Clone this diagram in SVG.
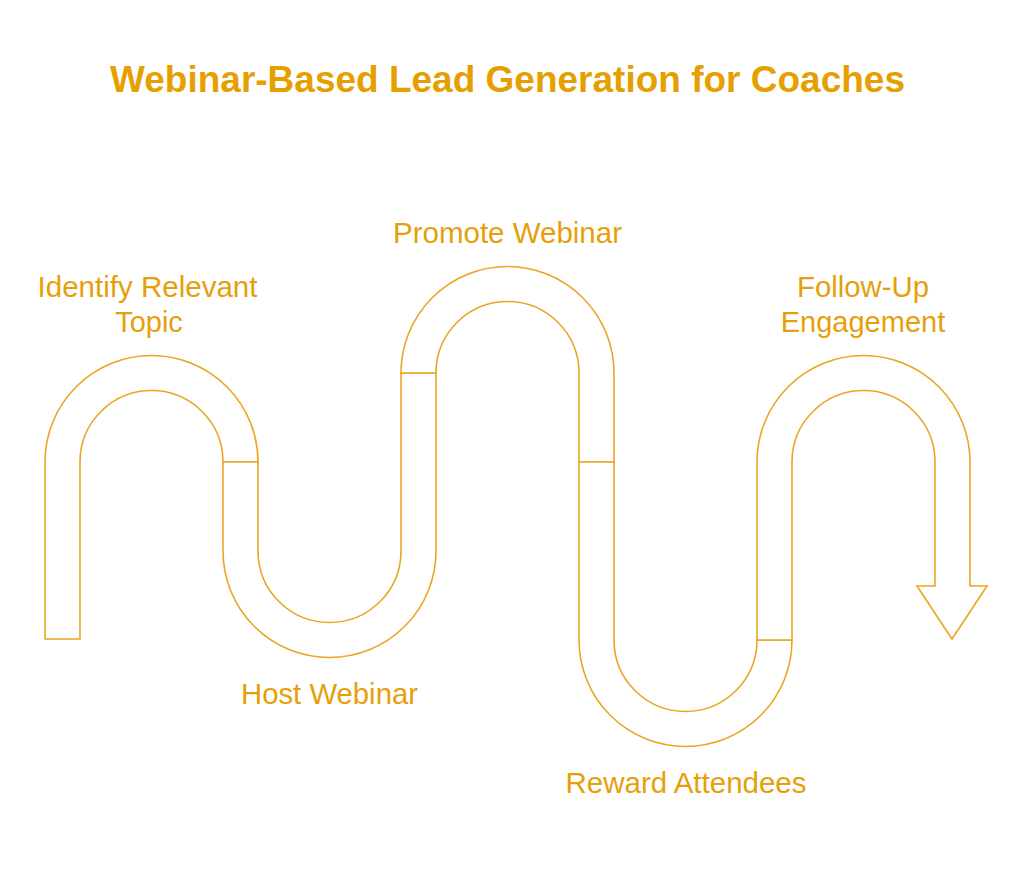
<svg xmlns="http://www.w3.org/2000/svg" width="1024" height="873" viewBox="0 0 1024 873">
<style>
.seg{fill:#ffffff;stroke:#EAA523;stroke-width:1.6;stroke-linejoin:miter}
.lbl{font-family:"Liberation Sans",Arial,sans-serif;font-size:29px;fill:#E69F0A;text-anchor:middle}
.title{font-family:"Liberation Sans",Arial,sans-serif;font-size:36px;font-weight:bold;fill:#E69F00;text-anchor:middle}
</style>
<rect width="1024" height="873" fill="#ffffff"/>
<text class="title" x="507.5" y="91.5" textLength="795" lengthAdjust="spacingAndGlyphs">Webinar-Based Lead Generation for Coaches</text>
<g id="connectors"></g>
<g id="stage1">
<path class="seg" d="M45,639 L45,462 A106.5,106.5 0 0 1 258,462 L223,462 A71.5,71.5 0 0 0 80,462 L80,639 Z"/>
<text class="lbl" x="147.5" y="296.5" textLength="220" lengthAdjust="spacingAndGlyphs">Identify Relevant</text>
<text class="lbl" x="149" y="331.5">Topic</text>
</g>
<g id="stage2">
<path class="seg" d="M223,462 L258,462 L258,551 A71.5,71.5 0 0 0 401,551 L401,373 L436,373 L436,551 A106.5,106.5 0 0 1 223,551 Z"/>
<text class="lbl" x="329.5" y="703.5" textLength="177" lengthAdjust="spacingAndGlyphs">Host Webinar</text>
</g>
<g id="stage3">
<path class="seg" d="M401,373 A106.5,106.5 0 0 1 614,373 L614,462 L579,462 L579,373 A71.5,71.5 0 0 0 436,373 Z"/>
<text class="lbl" x="507.5" y="242.5" textLength="229" lengthAdjust="spacingAndGlyphs">Promote Webinar</text>
</g>
<g id="stage4">
<path class="seg" d="M579,462 L614,462 L614,640 A71.5,71.5 0 0 0 757,640 L792,640 A106.5,106.5 0 0 1 579,640 Z"/>
<text class="lbl" x="686" y="792.5" textLength="241" lengthAdjust="spacingAndGlyphs">Reward Attendees</text>
</g>
<g id="stage5">
<path class="seg" d="M757,640 L757,462 A106.5,106.5 0 0 1 970,462 L970,586 L987,586 L952,639 L917,586 L935,586 L935,462 A71.5,71.5 0 0 0 792,462 L792,640 Z"/>
<text class="lbl" x="863" y="296.5" textLength="132" lengthAdjust="spacingAndGlyphs">Follow-Up</text>
<text class="lbl" x="863" y="331.5">Engagement</text>
</g>
</svg>
